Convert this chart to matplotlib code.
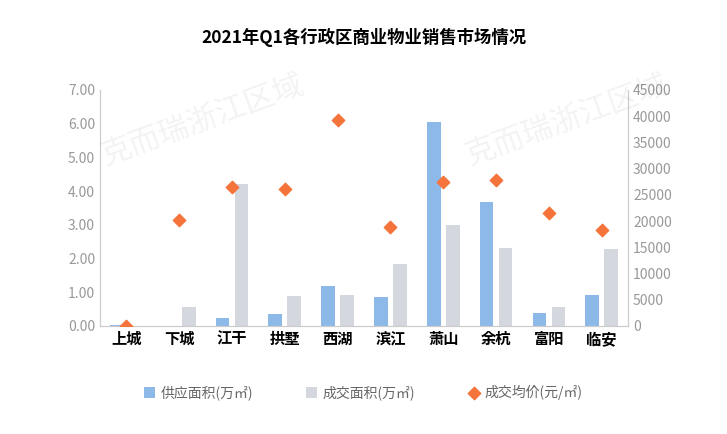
import matplotlib
matplotlib.use("Agg")
import matplotlib.pyplot as plt
from matplotlib import font_manager
import numpy as np

names = {f.name for f in font_manager.fontManager.ttflist}
cjk = [n for n in ["Noto Sans CJK SC", "Noto Sans CJK JP", "Noto Sans CJK TC", "Noto Sans CJK KR"] if n in names]
plt.rcParams["font.family"] = "sans-serif"
plt.rcParams["font.sans-serif"] = cjk + ["DejaVu Sans"]

districts = ["上城", "下城", "江干", "拱墅", "西湖", "滨江", "萧山", "余杭", "富阳", "临安"]
supply = [0.02, 0.0, 0.25, 0.35, 1.17, 0.85, 6.05, 3.68, 0.38, 0.92]
sales = [0.0, 0.55, 4.22, 0.90, 0.92, 1.85, 3.00, 2.32, 0.55, 2.27]
price = [0, 20200, 26500, 26100, 39300, 18900, 27500, 27800, 21500, 18300]

fig = plt.figure(figsize=(7.27, 4.34), dpi=100)
ax = fig.add_axes([0.1375, 0.249, 0.7265, 0.544])
ax2 = ax.twinx()
x = np.arange(len(districts))
w = 0.26
ax.bar(x - 0.18, supply, w, color="#8DB9E8", label="供应面积(万㎡)")
ax.bar(x + 0.18, sales, w, color="#D5D7DE", label="成交面积(万㎡)")
ax2.scatter(x, price, marker="D", s=40, color="#F4743B", zorder=5, label="成交均价(元/㎡)")

ax.set_ylim(0, 7)
ax.set_yticks(np.arange(0, 7.01, 1))
ax.set_yticklabels([f"{v:.2f}" for v in np.arange(0, 7.01, 1)])
ax2.set_ylim(0, 45000)
ax2.set_yticks(range(0, 45001, 5000))
ax.set_xlim(-0.5, 9.5)
ax.set_xticks(x)
ax.set_xticklabels(districts, fontsize=11, fontweight="bold")
for a in (ax, ax2):
    a.tick_params(axis="y", colors="#999999", labelsize=10, length=0)
    for s in a.spines.values():
        s.set_color("#CCCCCC")
    a.spines["top"].set_visible(False)
ax.tick_params(axis="x", length=0)

fig.text(0.5, 0.9, "2021年Q1各行政区商业物业销售市场情况", ha="center", fontsize=12.5, fontweight="bold")
for (xx, yy) in [(0.28, 0.62), (0.78, 0.62)]:
    fig.text(xx, yy, "克而瑞浙江区域", ha="center", fontsize=22, color="#000000", alpha=0.05, rotation=20)

h1, l1 = ax.get_legend_handles_labels()
h2, l2 = ax2.get_legend_handles_labels()
fig.legend(h1 + h2, l1 + l2, loc="center", bbox_to_anchor=(0.5, 0.095), ncol=3, frameon=False,
           fontsize=10, labelcolor="#666666", columnspacing=3.8, handlelength=0.8, handleheight=0.8,
           handletextpad=0.4)

fig.savefig("out.png", dpi=100)
